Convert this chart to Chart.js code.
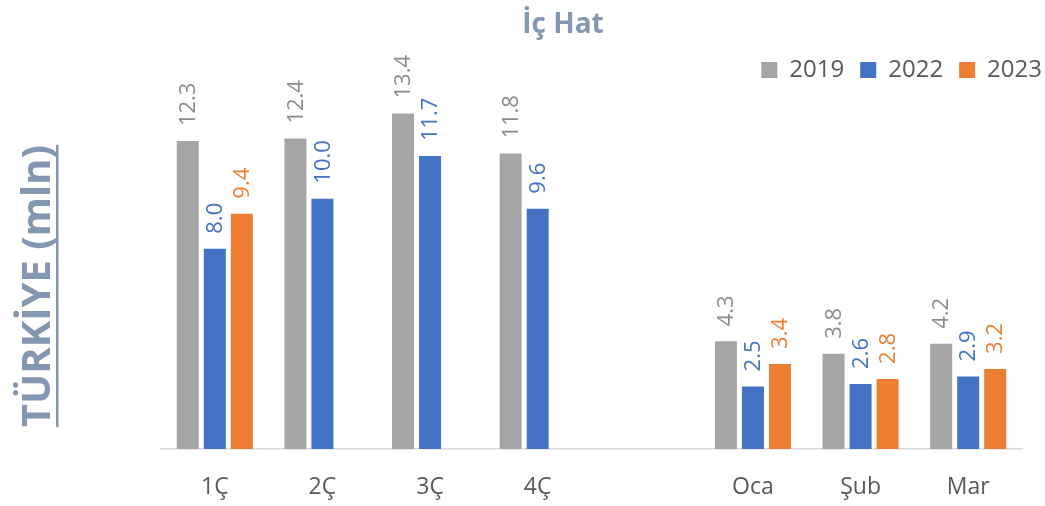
<!DOCTYPE html>
<html>
<head>
<meta charset="utf-8">
<script src="https://cdn.jsdelivr.net/npm/chart.js@4/dist/chart.umd.min.js"></script>
<style>
  html, body { margin: 0; padding: 0; background: #ffffff; }
  #wrap { width: 1045px; height: 506px; }
</style>
</head>
<body>
<div id="wrap"><canvas id="chart" width="1045" height="506"></canvas></div>
<script>
const categories = ["1Ç", "2Ç", "3Ç", "4Ç", "", "Oca", "Şub", "Mar"];
const seriesNames = ["2019", "2022", "2023"];
const values2019 = [12.3, 12.4, 13.4, 11.8, null, 4.3, 3.8, 4.2];
const values2022 = [8.0, 10.0, 11.7, 9.6, null, 2.5, 2.6, 2.9];
const values2023 = [9.4, null, null, null, null, 3.4, 2.8, 3.2];
const chartTitle = "İç Hat";
const yAxisTitle = "TÜRKİYE (mln)";

const colors = new Map([
  ["2019", "#a5a5a5"],
  ["2022", "#4472c4"],
  ["2023", "#ed7d31"],
]);
const labelColors = new Map([
  ["2019", "#8c8c8c"],
  ["2022", "#4472c4"],
  ["2023", "#ed7d31"],
]);
const titleColor = "#8497b0";
const textColor = "#595959";
const fontFamily = "'Open Sans', 'DejaVu Sans', sans-serif";

// value labels, rotated, above each bar
const barLabels = {
  id: "barLabels",
  afterDatasetsDraw(chart) {
    const ctx = chart.ctx;
    chart.data.datasets.forEach((ds, i) => {
      const meta = chart.getDatasetMeta(i);
      meta.data.forEach((bar, j) => {
        const v = ds.data[j];
        if (v === null || v === undefined) return;
        ctx.save();
        ctx.translate(bar.x, bar.y - 15);
        ctx.rotate(-Math.PI / 2);
        ctx.font = "22px " + fontFamily;
        ctx.fillStyle = labelColors.get(ds.label);
        ctx.textAlign = "left";
        ctx.textBaseline = "middle";
        ctx.fillText(v.toFixed(1), 0, 1);
        ctx.restore();
      });
    });
  },
};

// chart title and rotated, underlined y title
const extraTexts = {
  id: "extraTexts",
  afterDraw(chart) {
    const ctx = chart.ctx;
    ctx.save();
    ctx.font = "bold 28px " + fontFamily;
    ctx.fillStyle = titleColor;
    ctx.textAlign = "center";
    ctx.textBaseline = "alphabetic";
    ctx.fillText(chartTitle, 563, 33);
    ctx.restore();

    ctx.save();
    ctx.translate(50, 286);
    ctx.rotate(-Math.PI / 2);
    ctx.font = "bold 40px " + fontFamily;
    ctx.fillStyle = titleColor;
    ctx.textAlign = "center";
    ctx.textBaseline = "alphabetic";
    ctx.fillText(yAxisTitle, 0, 0);
    const w = ctx.measureText(yAxisTitle).width;
    ctx.fillRect(-w / 2, 6, w, 2.5);
    ctx.restore();
  },
};

const datasets = [values2019, values2022, values2023].map((vals, i) => ({
  label: seriesNames[i],
  data: vals,
  backgroundColor: colors.get(seriesNames[i]),
  borderWidth: 0,
  categoryPercentage: 0.753,
  barPercentage: 0.815,
}));

new Chart(document.getElementById("chart"), {
  type: "bar",
  data: { labels: categories, datasets: datasets },
  options: {
    responsive: false,
    animation: false,
    layout: {
      padding: { left: 161, right: -13, top: 42, bottom: 0 },
    },
    scales: {
      x: {
        grid: { display: false, drawTicks: false },
        border: { display: true, color: "#d9d9d9", width: 1.5 },
        ticks: {
          color: textColor,
          font: { family: fontFamily, size: 23 },
          padding: 25,
          maxRotation: 0,
        },
        afterFit(scale) {
          scale.height = 57;
        },
      },
      y: {
        position: "right",
        min: 0,
        max: 14.26,
        grid: { display: false, drawTicks: false },
        border: { display: false },
        ticks: { display: false },
        afterFit(scale) {
          scale.width = 36;
        },
      },
    },
    plugins: {
      title: { display: false },
      tooltip: { enabled: false },
      legend: {
        position: "top",
        align: "end",
        labels: {
          boxWidth: 16,
          boxHeight: 16,
          color: textColor,
          font: { family: fontFamily, size: 24 },
          padding: 16,
        },
      },
    },
  },
  plugins: [barLabels, extraTexts],
});
</script>
</body>
</html>
